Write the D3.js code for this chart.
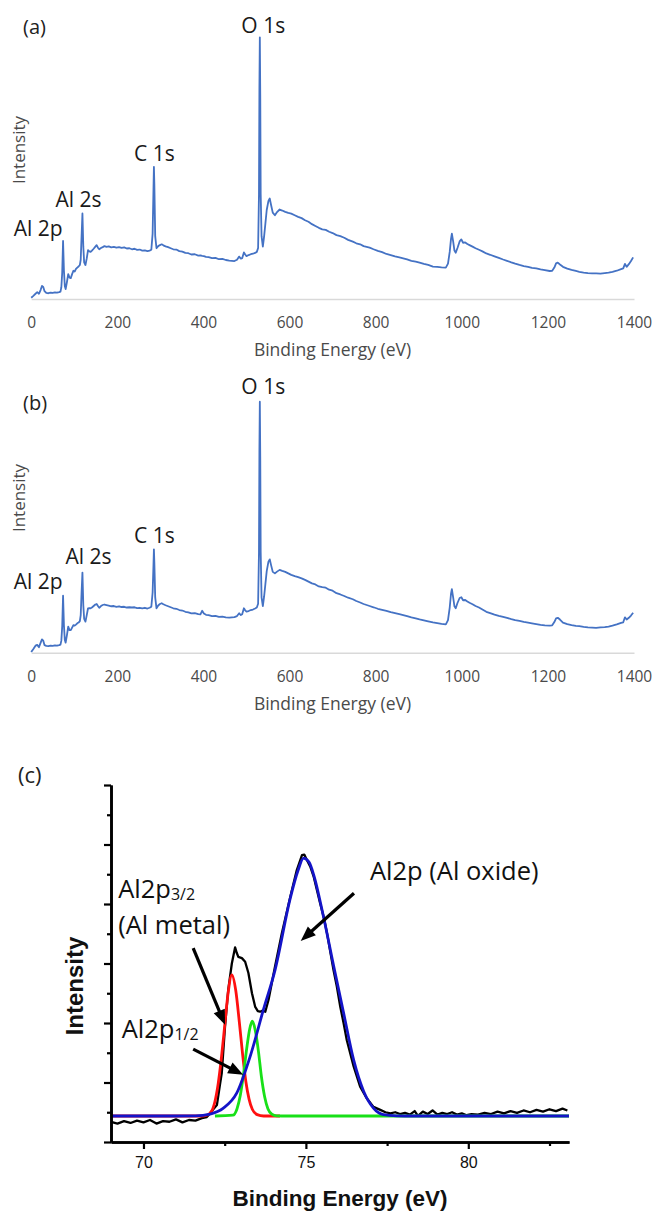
<!DOCTYPE html>
<html><head><meta charset="utf-8">
<script src="https://cdn.jsdelivr.net/npm/d3@7/dist/d3.min.js"></script>
<style>body{margin:0;background:#fff}svg{display:block}</style>
</head><body>
<svg id="chart" width="654" height="1212"></svg>
<script>
// ---------- Survey spectra (a) and (b) ----------
const energy = [0,5,10,14,18,22,25,28,31,35,40,45,50,55,60,65,68,70,72,74,76,78,80,83,86,89,92,95,98,101,104,107,110,113,115,117,119,121,123,126,129,132,135,138,141,145,149,152,155,158,162,166,170,175,180,186,192,198,204,210,216,222,228,234,240,246,252,258,264,270,275,279,282,284,285,286,288,291,295,299,303,307,312,318,324,330,337,344,351,358,365,372,380,388,393,397,401,406,412,420,428,436,444,452,460,466,472,478,483,487,490,494,497,500,505,510,515,520,524,527,529,530,531,532,533,535,538,541,544,547,551,554,557,561,566,571,577,583,590,597,604,612,620,628,636,644,652,660,668,676,684,692,700,709,718,727,736,747,755,764,772,786,795,805,815,825,835,845,855,864,873,883,893,902,912,922,933,943,953,963,968,972,975,977,980,983,986,990,995,999,1003,1008,1013,1018,1025,1032,1040,1048,1057,1066,1076,1086,1096,1105,1115,1124,1134,1144,1154,1163,1173,1183,1193,1204,1210,1215,1219,1223,1228,1235,1245,1255,1265,1273,1283,1293,1303,1312,1322,1332,1341,1350,1360,1370,1375,1379,1383,1388,1393,1398];

const intensityA = [0.5,1.2,2.0,2.6,2.0,3.5,5.0,4.6,3.0,2.3,2.2,2.4,2.3,2.5,2.4,2.6,2.8,4.5,10,22.2,11,5,3.8,6.5,9.5,8.2,8.0,9.5,10.8,10.5,11.5,12.0,12.4,13.0,15,24,32.7,20,14,13.0,15.5,18.7,18.2,18.0,18.5,19.2,20.0,20.6,19.6,19.0,19.5,19.8,20.2,19.9,20.1,19.7,19.9,19.6,19.8,19.5,19.7,19.3,19.4,19.0,19.2,18.8,18.9,18.5,18.6,18.3,18.5,18.8,25,42,50.5,44,24,19.4,20.2,20.6,20.9,20.5,20.1,19.8,19.4,19.0,18.9,18.3,18.1,17.6,17.5,17.0,17.1,16.6,16.7,16.5,16.4,16.1,16.0,15.6,15.7,15.2,15.3,14.9,14.7,14.6,14.5,15.0,16.2,15.4,15.6,17.8,17.0,16.4,16.8,17.1,17.3,17.6,18.0,19.5,40,80,100,78,40,24,20,24,29,34,37.5,38.4,36,33,32,33.2,34.2,33.8,33.3,32.9,32.6,32.0,31.4,30.9,30.1,29.5,28.6,27.9,27.2,26.6,26.4,25.7,25.2,24.4,24.0,23.4,22.6,21.9,21.3,20.9,20.2,19.6,19.0,18.4,17.9,17.2,16.8,16.3,15.9,15.5,15.1,14.6,14.3,13.9,13.4,13.0,12.4,12.3,12.1,12.0,13.5,18,23,25,22,18.5,17.7,19.5,22,22.8,21.5,21.6,21.0,20.6,20.0,19.4,18.8,18.2,17.4,16.9,16.3,15.7,15.1,14.6,14.0,13.5,13.0,12.6,12.3,11.9,11.7,11.3,11.0,10.7,10.8,12.0,13.6,13.9,13.2,12.3,11.6,11.1,10.7,10.4,10.1,9.9,9.8,9.8,9.7,9.9,10.1,10.4,10.8,11.4,11.7,13.4,12.3,13.3,14.5,15.9];

const intensityB = [0.3,1.5,2.8,3.1,2.2,4.0,5.3,4.8,3.0,2.7,2.6,2.8,2.7,2.9,2.8,3.0,3.2,4.8,10.5,22.7,11,5.2,4.0,7.0,10.4,9.0,9.0,10.0,11.0,10.8,11.2,11.7,12.0,12.6,15,24,31.9,19,13.5,12.4,15.0,17.7,17.8,17.7,18.0,18.6,19.2,19.4,18.6,17.9,18.6,19.0,19.2,19.0,18.8,18.5,18.6,18.3,18.5,18.2,18.3,18.0,18.1,18.0,18.1,17.8,17.9,17.7,17.9,17.6,17.9,18.3,24,35,41.2,36,22,17.7,18.8,19.4,19.7,19.3,18.9,18.5,18.1,17.7,17.5,17.0,16.8,16.3,16.1,15.7,15.8,15.4,15.3,16.7,15.6,15.1,15.0,14.6,14.7,14.3,14.4,14.1,14.0,14.1,14.2,14.6,15.7,15.0,15.3,17.7,16.9,16.4,16.6,17.0,17.2,17.6,18.0,19.5,40,80,100,78,40,22,18.6,22.5,27.5,32.5,36.3,37.2,35,32.2,31.6,32.3,33.0,32.6,32.2,31.6,31.0,30.5,30.1,29.6,29.0,28.3,27.6,27.2,26.4,26.1,25.9,25.1,24.7,23.7,23.2,22.6,21.9,21.3,20.6,20.0,19.4,18.6,18.1,17.5,17.1,16.7,16.2,15.8,15.4,15.0,14.6,14.1,13.7,13.3,12.9,12.5,12.1,11.8,11.5,11.3,13.0,18,23.5,25.3,22,18.5,17.7,19.8,21.8,22.1,20.9,21.0,20.4,19.9,19.3,18.6,18.0,17.2,16.3,15.8,15.2,14.7,14.3,13.9,13.4,13.0,12.7,12.3,12.0,11.7,11.4,11.1,10.9,10.8,10.9,12.2,13.7,13.9,13.2,12.0,11.4,11.0,10.7,10.6,10.3,10.1,10.0,9.9,10.1,10.2,10.4,10.8,11.3,11.9,12.1,14.1,13.2,13.9,14.8,15.9];

const surveyTicks = [0,200,400,600,800,1000,1200,1400];
const peakNames = ["O 1s","C 1s","Al 2s","Al 2p"];
const peakLabelEA = [539,286,110,16];
const peakLabelIA = [104.6,55.7,38.2,27.1];
const peakLabelEB = [539,286,133,16];
const peakLabelIB = [106,46.5,38.2,28.3];

// ---------- High-resolution Al 2p (c) ----------
const hrE = [69.0,69.2,69.4,69.6,69.8,70.0,70.2,70.4,70.6,70.8,71.0,71.2,71.4,71.6,71.8,71.95,72.05,72.15,72.26,72.35,72.41,72.51,72.61,72.72,72.82,72.87,72.92,73.03,73.13,73.23,73.34,73.44,73.52,73.59,73.67,73.75,73.85,74.05,74.26,74.52,74.72,74.88,74.95,75.03,75.14,75.24,75.44,75.55,75.65,75.85,75.95,76.06,76.16,76.26,76.47,76.67,76.88,77.08,77.29,77.45,77.6,77.75,77.9,78.05,78.2,78.35,78.45,78.6,78.75,78.9,79.05,79.2,79.35,79.5,79.65,79.8,79.95,80.1,80.3,80.5,80.7,80.9,81.1,81.3,81.5,81.7,81.9,82.1,82.3,82.5,82.7,82.9,83.05];
const hrI = [0.34,0.31,0.35,0.32,0.36,0.33,0.37,0.31,0.35,0.34,0.38,0.33,0.37,0.36,0.40,0.42,0.48,0.55,0.62,0.95,1.16,1.94,2.56,3.00,3.27,3.18,3.11,3.09,3.03,2.84,2.50,2.27,2.20,2.19,2.21,2.19,2.39,2.95,3.51,4.12,4.57,4.82,4.83,4.74,4.62,4.46,4.01,3.78,3.51,2.89,2.62,2.27,2.00,1.71,1.27,0.93,0.73,0.59,0.54,0.50,0.48,0.50,0.47,0.49,0.46,0.52,0.44,0.51,0.47,0.53,0.46,0.49,0.47,0.50,0.46,0.48,0.45,0.47,0.46,0.49,0.47,0.51,0.48,0.52,0.49,0.53,0.50,0.54,0.51,0.55,0.52,0.56,0.53];

const metalE = [69.0,71.8,71.95,72.1,72.2,72.3,72.4,72.5,72.6,72.72,72.84,72.95,73.05,73.15,73.25,73.35,73.5,73.7,74.2];
const metalI = [0.437,0.437,0.45,0.52,0.68,0.98,1.42,1.95,2.48,2.81,2.55,2.02,1.48,1.02,0.72,0.55,0.46,0.437,0.437];
const metal2E = [72.2,72.75,72.88,72.98,73.08,73.18,73.27,73.35,73.44,73.54,73.63,73.73,73.83,73.95,74.1,74.4,77.8,83.1];
const metal2I = [0.437,0.45,0.56,0.78,1.14,1.58,1.9,2.03,1.88,1.52,1.1,0.76,0.56,0.47,0.44,0.437,0.437,0.437];
const oxideE = [69.0,71.0,71.6,72.05,72.46,72.87,73.28,73.69,74.05,74.52,74.75,74.93,75.1,75.24,75.54,75.85,76.16,76.47,76.78,77.08,77.39,77.8,78.3,83.1];
const oxideI = [0.437,0.437,0.44,0.47,0.57,0.82,1.43,2.22,2.89,4.10,4.55,4.77,4.70,4.49,3.79,2.97,2.17,1.38,0.85,0.57,0.46,0.44,0.437,0.437];

const hrXTicksMajor = [70,75,80];
const hrXTicksMinor = [72.5,77.5,82.5];
const hrYTicksMajor = [0,1,2,3,4,5,6];
const hrYTicksMinor = [0.5,1.5,2.5,3.5,4.5,5.5];

// ---------- drawing ----------
const svg = d3.select("#chart");
svg.append("rect").attr("width",654).attr("height",1212).attr("fill","#fff");
const SANS = "'Open Sans', sans-serif";
const ARIAL = "'Liberation Sans', Arial, sans-serif";

function survey(panel){
  const g = svg.append("g");
  const x = d3.scaleLinear().domain([0,1400]).range([31.2,634]);
  const y = d3.scaleLinear().domain([0,100]).range([panel.base, panel.top]);
  const ax = g.append("g").attr("transform",`translate(0,${panel.base})`)
    .call(d3.axisBottom(x).tickValues(surveyTicks).tickSize(0).tickPadding(18).tickFormat(d3.format("d")));
  ax.select(".domain").attr("stroke","#d9d9d9").attr("stroke-width",1.6);
  ax.selectAll("text").attr("font-family",SANS).attr("font-size",15.5).attr("fill","#4a4a4a");
  const data = energy.map((e,i)=>[e,panel.vals[i]]);
  g.append("path").datum(data)
    .attr("fill","none").attr("stroke","#4472C4").attr("stroke-width",1.8).attr("stroke-linejoin","round")
    .attr("d", d3.line().x(d=>x(d[0])).y(d=>y(d[1])));
  g.append("text").attr("x",332.5).attr("y",panel.base+57).attr("text-anchor","middle")
    .attr("font-family",SANS).attr("font-size",17.5).attr("fill","#4a4a4a").text("Binding Energy (eV)");
  g.append("text").attr("transform",`translate(24.5,${panel.intY}) rotate(-90)`).attr("text-anchor","middle")
    .attr("font-family",SANS).attr("font-size",17).attr("fill","#4a4a4a").text("Intensity");
  g.append("text").attr("x",23).attr("y",panel.tagY+7).attr("font-family",SANS).attr("font-size",20).attr("fill","#222").text(panel.tag);
  peakNames.forEach((n,i)=>{
    g.append("text").attr("x",x(panel.le[i])).attr("y",y(panel.li[i])+7.5).attr("text-anchor","middle")
      .attr("font-family",SANS).attr("font-size",21).attr("fill","#1a1a1a").text(n);
  });
}
survey({base:299, top:37.3, vals:intensityA, intY:150, tagY:27, tag:"(a)", le:peakLabelEA, li:peakLabelIA});
survey({base:652.7, top:401.7, vals:intensityB, intY:498, tagY:403, tag:"(b)", le:peakLabelEB, li:peakLabelIB});

// ---------- panel (c) ----------
const gc = svg.append("g");
const xc = d3.scaleLinear().domain([69,83.1]).range([111,569]);
const yc = d3.scaleLinear().domain([0,6]).range([1142,785]);
const lineC = d3.line().x(d=>xc(d[0])).y(d=>yc(d[1]));
const lineS = d3.line().x(d=>xc(d[0])).y(d=>yc(d[1])).curve(d3.curveMonotoneX);

gc.append("path").datum(hrE.map((e,i)=>[e,hrI[i]])).attr("fill","none").attr("stroke","#000").attr("stroke-width",2.3).attr("stroke-linejoin","round").attr("d",lineC);
gc.append("path").datum(metalE.map((e,i)=>[e,metalI[i]])).attr("fill","none").attr("stroke","#ff1010").attr("stroke-width",2.8).attr("d",lineS);
gc.append("path").datum(metal2E.map((e,i)=>[e,metal2I[i]])).attr("fill","none").attr("stroke","#18e018").attr("stroke-width",2.8).attr("d",lineS);
gc.append("path").datum(oxideE.map((e,i)=>[e,oxideI[i]])).attr("fill","none").attr("stroke","#1414c8").attr("stroke-width",2.8).attr("d",lineS);

function styleAxis(sel){ sel.select(".domain").attr("stroke","#000").attr("stroke-width",2.6);
  sel.selectAll(".tick line").attr("stroke","#000").attr("stroke-width",2.2); }
const xa = gc.append("g").attr("transform","translate(0,1142)")
  .call(d3.axisBottom(xc).tickValues(hrXTicksMajor).tickSize(7).tickSizeOuter(0).tickPadding(8));
styleAxis(xa);
xa.selectAll("text").attr("font-family",ARIAL).attr("font-size",16).attr("fill","#111");
const xm = gc.append("g").attr("transform","translate(0,1142)")
  .call(d3.axisBottom(xc).tickValues(hrXTicksMinor).tickSize(4).tickSizeOuter(0).tickFormat(""));
styleAxis(xm);
const ya = gc.append("g").attr("transform","translate(111,0)")
  .call(d3.axisLeft(yc).tickValues(hrYTicksMajor).tickSize(7).tickSizeOuter(0).tickFormat(""));
styleAxis(ya);
const ym = gc.append("g").attr("transform","translate(111,0)")
  .call(d3.axisLeft(yc).tickValues(hrYTicksMinor).tickSize(4).tickSizeOuter(0).tickFormat(""));
styleAxis(ym);

gc.append("text").attr("x",340).attr("y",1206).attr("text-anchor","middle").attr("font-family",ARIAL)
  .attr("font-weight","bold").attr("font-size",22.5).attr("fill","#111").text("Binding Energy (eV)");
gc.append("text").attr("transform","translate(83,986) rotate(-90)").attr("text-anchor","middle").attr("font-family",ARIAL)
  .attr("font-weight","bold").attr("font-size",24).attr("fill","#111").text("Intensity");
gc.append("text").attr("x",18).attr("y",783).attr("font-family",SANS).attr("font-size",22).attr("fill","#222").text("(c)");

const annots = [
  {x:69.22, y:4.10, main:"Al2p", sub:"3/2"},
  {x:69.22, y:3.50, main:"(Al metal)", sub:""},
  {x:69.33, y:1.75, main:"Al2p", sub:"1/2"},
  {x:76.97, y:4.40, main:"Al2p (Al oxide)", sub:""}
];
annots.forEach(a=>{
  const t = gc.append("text").attr("x",xc(a.x)).attr("y",yc(a.y)).attr("font-family",SANS).attr("font-size",25.5).attr("fill","#111");
  t.append("tspan").text(a.main);
  if(a.sub) t.append("tspan").attr("font-size",16).attr("dy",2).text(a.sub);
});
const arrows = [
  {x1:76.48,y1:4.18,x2:74.84,y2:3.38},
  {x1:71.53,y1:3.26,x2:72.51,y2:1.97},
  {x1:71.53,y1:1.56,x2:73.07,y2:1.13}
];
arrows.forEach(a=>{
  const X1=xc(a.x1),Y1=yc(a.y1),X2=xc(a.x2),Y2=yc(a.y2);
  const ang=Math.atan2(Y2-Y1,X2-X1), L=15, W=6;
  const bx=X2-L*Math.cos(ang), by=Y2-L*Math.sin(ang);
  gc.append("line").attr("x1",X1).attr("y1",Y1).attr("x2",bx+2*Math.cos(ang)).attr("y2",by+2*Math.sin(ang))
    .attr("stroke","#000").attr("stroke-width",3.2);
  const px=-Math.sin(ang), py=Math.cos(ang);
  gc.append("path").attr("d",`M${X2},${Y2}L${bx+W*px},${by+W*py}L${bx-W*px},${by-W*py}Z`).attr("fill","#000");
});
</script>
</body></html>
